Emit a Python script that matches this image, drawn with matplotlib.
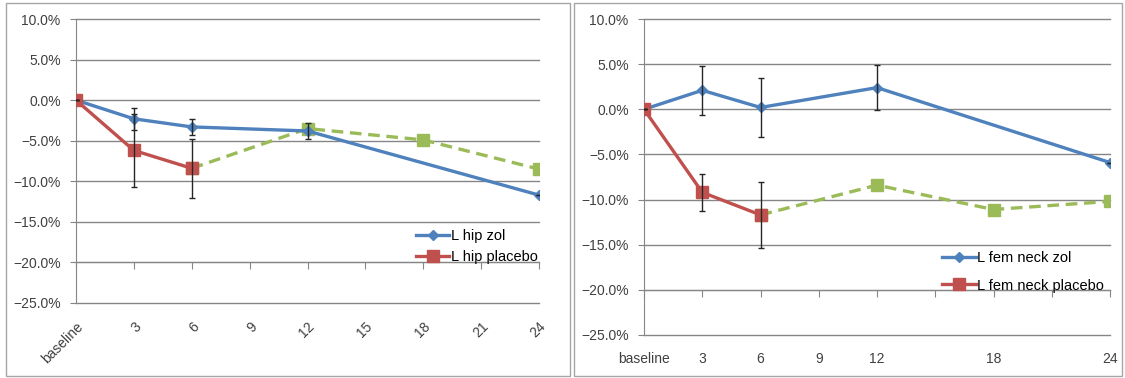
import matplotlib
matplotlib.use("Agg")
from matplotlib import pyplot as plt
from matplotlib.patches import Rectangle
from matplotlib.ticker import PercentFormatter

plt.rcParams["font.family"] = ["Liberation Sans", "DejaVu Sans"]

# data (percent change from baseline)
tick_months = [0, 3, 6, 9, 12, 15, 18, 21, 24]
hip_tick_labels = ["baseline", "3", "6", "9", "12", "15", "18", "21", "24"]
neck_tick_labels = ["baseline", "3", "6", "9", "12", "", "18", "", "24"]

zol_months = [0, 3, 6, 12, 24]
placebo_months = [0, 3, 6]
extension_months = [6, 12, 18, 24]

hip_zol = [0.0, -2.3, -3.3, -3.8, -11.7]
hip_zol_err = [0.0, 1.35, 1.0, 1.0, 0.0]
hip_placebo = [0.0, -6.2, -8.4]
hip_placebo_err = [0.0, 4.5, 3.6]
hip_extension = [-8.4, -3.5, -4.9, -8.5]

neck_zol = [0.0, 2.1, 0.2, 2.4, -5.9]
neck_zol_err = [0.0, 2.7, 3.25, 2.5, 0.0]
neck_placebo = [0.0, -9.2, -11.7]
neck_placebo_err = [0.0, 2.05, 3.65]
neck_extension = [-11.7, -8.4, -11.1, -10.2]

BLUE = "#4f81bd"
RED = "#c0504d"
GREEN = "#9bbb59"
GRID = "#868686"
TEXT = "#404040"


def draw_panel(ax, zol, zol_err, placebo, placebo_err, extension,
               labels, zol_name, placebo_name, rotate, label_pad, legend_anchor, legend_spacing):
    ax.plot(extension_months, extension, color=GREEN, lw=2.4, ls=(0, (3.5, 2)),
            marker="s", ms=8, zorder=3)
    ax.plot(zol_months, zol, color=BLUE, lw=2.4, marker="D", ms=5.5,
            label=zol_name, zorder=4)
    ax.plot(placebo_months, placebo, color=RED, lw=2.4, marker="s", ms=8,
            label=placebo_name, zorder=4)
    ax.errorbar(zol_months, zol, yerr=zol_err, fmt="none", ecolor="#262626",
                elinewidth=1, capsize=2.5, capthick=1, zorder=5)
    ax.errorbar(placebo_months, placebo, yerr=placebo_err, fmt="none", ecolor="#262626",
                elinewidth=1, capsize=2.5, capthick=1, zorder=5)

    ax.set_xlim(0, 24)
    ax.set_ylim(-25, 10)
    ax.set_yticks([-25, -20, -15, -10, -5, 0, 5, 10])
    ax.yaxis.set_major_formatter(PercentFormatter(decimals=1))
    ax.grid(axis="y", color=GRID, lw=1)
    for gl in ax.get_ygridlines():
        gl.set_clip_on(False)
    ax.set_axisbelow(True)

    for side in ["top", "right"]:
        ax.spines[side].set_visible(False)
    ax.spines["left"].set_color(GRID)
    ax.spines["bottom"].set_color(GRID)
    ax.spines["bottom"].set_position(("data", -20))

    ax.set_xticks(tick_months)
    if rotate:
        ax.set_xticklabels(labels, rotation=45, ha="right", rotation_mode="anchor")
    else:
        ax.set_xticklabels(labels)
    ax.tick_params(axis="x", direction="out", length=5, color=GRID, pad=label_pad,
                   labelsize=10, labelcolor=TEXT)
    ax.tick_params(axis="y", direction="out", length=4, color=GRID, pad=7,
                   labelsize=10, labelcolor=TEXT)

    leg = ax.legend(loc="lower right", bbox_to_anchor=legend_anchor, frameon=False,
                    fontsize=10.5, handlelength=2.3, handletextpad=0.1,
                    labelspacing=legend_spacing, borderaxespad=0)
    for t in leg.get_texts():
        t.set_color("#000000")


fig = plt.figure(figsize=(11.25, 3.78), dpi=100)

ax1 = fig.add_axes([76 / 1125, 1 - 303 / 378, 463 / 1125, 284 / 378])
draw_panel(ax1, hip_zol, hip_zol_err, hip_placebo, hip_placebo_err, hip_extension,
           hip_tick_labels, "L hip zol", "L hip placebo", True, 36, (1.01, 0.118), 0.45)

ax2 = fig.add_axes([644 / 1125, 1 - 335 / 378, 466 / 1125, 316 / 378])
draw_panel(ax2, neck_zol, neck_zol_err, neck_placebo, neck_placebo_err, neck_extension,
           neck_tick_labels, "L fem neck zol", "L fem neck placebo", False, 40, (1.0, 0.116), 0.95)

# chart borders
fig.add_artist(Rectangle((6 / 1125, 2 / 378), 564 / 1125, 373 / 378,
                         transform=fig.transFigure, fill=False, ec="#a6a6a6", lw=1))
fig.add_artist(Rectangle((574 / 1125, 2 / 378), 548 / 1125, 373 / 378,
                         transform=fig.transFigure, fill=False, ec="#a6a6a6", lw=1))

fig.savefig("out.png", dpi=100)
